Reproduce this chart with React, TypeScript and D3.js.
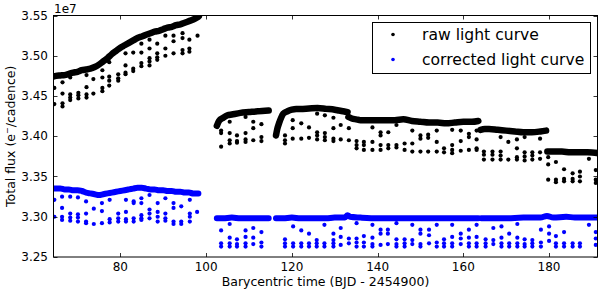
import React from "react";
import * as d3 from "d3";

// ---- data (flux in units of 1e7 e-/cadence, time in BJD - 2454900) ----
const xTicks = [80, 100, 120, 140, 160, 180];
const yTicks = [3.25, 3.3, 3.35, 3.4, 3.45, 3.5, 3.55];

// dense (continuous) part of raw light curve, by segment
const rawSeg1: [number, number][] = [[64.3,3.474],[65,3.475],[66,3.4755],[67,3.476],[68,3.4775],[69,3.479],[70,3.48],[71,3.482],[72,3.483],[73,3.484],[74,3.486],[75,3.489],[76,3.493],[77,3.497],[78,3.502],[79,3.506],[80,3.51],[81,3.513],[82,3.516],[83,3.519],[84,3.522],[85,3.524],[86,3.526],[87,3.528],[88,3.53],[89,3.531],[90,3.533],[91,3.535],[92,3.536],[93,3.538],[94,3.539],[95,3.541],[96,3.543],[97,3.545],[98,3.548],[98.3,3.549]];
const rawSeg2: [number, number][] = [[102.5,3.413],[103,3.419],[104,3.423],[105,3.426],[106,3.427],[108,3.429],[110,3.43],[112,3.431],[114.6,3.432]];
const rawSeg3: [number, number][] = [[116.3,3.401],[116.6,3.409],[117,3.416],[117.5,3.423],[118,3.428],[119,3.431],[120,3.433],[121,3.434],[122,3.434],[124,3.4345],[126,3.435],[128,3.434],[130,3.433],[131,3.432],[132,3.431],[133,3.43]];
const rawSeg4: [number, number][] = [[133.2,3.424],[134,3.422],[135,3.421],[136,3.42],[138,3.42],[140,3.42],[142,3.42],[144,3.42],[146,3.421],[148,3.419],[150,3.418],[152,3.417],[154,3.417],[156,3.416],[158,3.417],[160,3.418],[162,3.418],[163.5,3.419]];
const rawSeg5: [number, number][] = [[164,3.408],[165,3.409],[166,3.409],[168,3.408],[170,3.407],[172,3.406],[174,3.405],[176,3.405],[178,3.406],[179.3,3.407]];
const rawSeg6: [number, number][] = [[179.6,3.381],[181,3.381],[183,3.381],[185,3.38],[187,3.38],[189,3.38],[191.5,3.379]];

// dense part of corrected light curve, by segment
const corSeg1: [number, number][] = [[64.3,3.335],[65,3.335],[66,3.335],[67,3.334],[68,3.334],[69,3.333],[70,3.333],[71,3.332],[72,3.33],[73,3.329],[74,3.328],[75,3.327],[76,3.328],[77,3.329],[78,3.33],[79,3.331],[80,3.332],[81,3.333],[82,3.334],[83,3.335],[84,3.336],[85,3.336],[86,3.335],[87,3.334],[88,3.334],[89,3.333],[90,3.333],[91,3.332],[92,3.332],[93,3.331],[94,3.331],[95,3.33],[96,3.33],[97,3.329],[98.2,3.329]];
const corSeg2: [number, number][] = [[102.5,3.298],[104,3.298],[106,3.299],[108,3.298],[110,3.298],[112,3.298],[114.6,3.298]];
const corSeg3: [number, number][] = [[116.3,3.298],[118,3.298],[120,3.299],[122,3.298],[124,3.298],[126,3.298],[128,3.298],[130,3.299],[132.4,3.299],[133,3.302],[133.6,3.3],[136,3.299],[140,3.298],[144,3.298],[148,3.298],[152,3.298],[156,3.298],[160,3.298],[163.5,3.298]];
const corSeg4: [number, number][] = [[164.2,3.298],[166,3.298],[170,3.298],[174,3.299],[178,3.299],[179.5,3.301],[181,3.299],[184,3.3],[186,3.299],[188,3.299],[191.5,3.299]];

// sparse low points (time, values)
const rawDips: [number, number[]][] = [
  [64.6,[3.46,3.44]],[66.5,[3.467,3.453,3.441,3.437]],[68.3,[3.473,3.452,3.448,3.445]],[70.2,[3.454,3.451,3.447]],
  [72.1,[3.476,3.461,3.452,3.448]],[73.7,[3.471,3.453]],[75.8,[3.482,3.473,3.46,3.456]],[77.4,[3.492,3.474,3.469,3.463]],
  [79.5,[3.477,3.472,3.469]],[81.2,[3.503,3.488,3.479,3.477]],[83.0,[3.504,3.484,3.481]],[84.9,[3.515,3.504,3.491,3.487]],
  [86.8,[3.52,3.509,3.497,3.493,3.488]],[88.6,[3.515,3.503,3.498,3.495]],[90.5,[3.525,3.509,3.5]],[92.4,[3.525,3.518,3.503]],
  [94.5,[3.528,3.522,3.507,3.503]],[96.1,[3.52,3.509,3.505]],[98.0,[3.525]],
  [103.5,[3.407,3.404,3.387]],[105.5,[3.418,3.404,3.395,3.391]],[107.2,[3.401,3.394,3.392]],[109.2,[3.424,3.404,3.396,3.393]],
  [111.0,[3.418,3.41,3.395]],[112.9,[3.415,3.399,3.394]],
  [118.4,[3.401,3.395,3.391]],[120.2,[3.42,3.41,3.397]],[122.2,[3.416,3.397]],[124.0,[3.411,3.398]],
  [125.9,[3.428,3.405,3.401,3.396]],[127.7,[3.426,3.404,3.399,3.395]],[129.7,[3.423,3.41,3.397,3.394]],[131.4,[3.414,3.396]],
  [133.3,[3.41,3.395]],[135.1,[3.394,3.389,3.385]],[136.8,[3.393,3.389,3.383]],[138.8,[3.411,3.393,3.383]],
  [140.7,[3.405,3.401,3.389,3.383]],[142.5,[3.405,3.389,3.385]],[144.4,[3.414,3.389,3.386]],[146.3,[3.391,3.383]],
  [148.1,[3.407,3.391,3.381]],[150.0,[3.401,3.397,3.381]],[151.8,[3.402,3.398,3.381]],[153.8,[3.407,3.393,3.381]],
  [155.5,[3.385,3.38]],[157.4,[3.408,3.389,3.383,3.379]],[159.4,[3.407,3.394,3.382]],[161.3,[3.403,3.399,3.383]],
  [163.1,[3.407,3.396,3.385,3.383]],
  [164.8,[3.381,3.377,3.371]],[166.8,[3.381,3.377,3.371]],[168.7,[3.399,3.381,3.376,3.371]],[170.5,[3.393,3.371]],
  [172.5,[3.396,3.385,3.374,3.371]],[174.3,[3.399,3.38,3.375,3.37]],[176.1,[3.38,3.376,3.371]],[177.9,[3.397,3.38,3.372]],
  [179.8,[3.374,3.365,3.346]],[181.6,[3.368,3.346,3.343]],[183.5,[3.359,3.347,3.344]],[185.5,[3.354,3.347,3.344]],
  [187.2,[3.356,3.35,3.344]],[189.3,[3.372]],[190.9,[3.358,3.346,3.342]],
];
const corDips: [number, number[]][] = [
  [64.6,[3.321,3.3]],[66.4,[3.325,3.311,3.3,3.296]],[68.3,[3.325,3.304,3.299,3.295]],[70.1,[3.324,3.303,3.299,3.294]],
  [72.0,[3.319,3.304,3.294,3.292]],[73.8,[3.31,3.291]],[75.7,[3.317,3.307,3.292]],[77.5,[3.321,3.297,3.293]],
  [79.5,[3.304,3.298,3.294]],[81.3,[3.321,3.306,3.297,3.294]],[83.1,[3.319,3.317,3.298,3.294]],[84.9,[3.323,3.317,3.302,3.298,3.296]],
  [86.8,[3.327,3.309,3.304,3.298]],[88.7,[3.317,3.306,3.3,3.294]],[90.5,[3.323,3.304,3.298,3.295]],[92.4,[3.317,3.311,3.294,3.291]],
  [94.2,[3.313,3.294,3.291]],[96.2,[3.321,3.304,3.3,3.294]],[97.9,[3.306]],
  [103.5,[3.283,3.267,3.263]],[105.5,[3.291,3.274,3.267,3.263]],[107.2,[3.272,3.266,3.263]],[109.2,[3.283,3.275,3.267,3.263]],
  [111.0,[3.286,3.274,3.266]],[112.9,[3.281,3.268,3.263]],
  [118.4,[3.272,3.267,3.263]],[120.3,[3.288,3.267,3.263]],[122.2,[3.283,3.267,3.263]],[124.0,[3.279,3.267,3.263]],
  [125.8,[3.271,3.267,3.263]],[127.6,[3.29,3.267,3.263]],[129.7,[3.279,3.271,3.267,3.263]],[131.4,[3.286,3.275,3.265]],
  [133.3,[3.273,3.267]],[135.1,[3.292,3.273,3.268,3.263]],[136.8,[3.276,3.268,3.263]],[138.8,[3.29,3.274,3.266,3.263]],
  [140.7,[3.284,3.279,3.265]],[142.4,[3.284,3.279,3.266]],[144.4,[3.292,3.272,3.266,3.263]],[146.3,[3.272,3.267,3.263]],
  [148.1,[3.29,3.271,3.266]],[150.0,[3.284,3.279,3.266,3.263]],[152.0,[3.284,3.277,3.267]],[153.8,[3.29,3.268,3.263]],
  [155.5,[3.272,3.267,3.263]],[157.4,[3.29,3.275,3.267,3.263]],[159.4,[3.279,3.273,3.266]],[161.3,[3.284,3.274,3.267,3.263]],
  [163.1,[3.29,3.275,3.267,3.263]],
  [165.2,[3.272,3.267,3.263]],[167.0,[3.286,3.271,3.266]],[168.9,[3.288,3.274,3.267,3.263]],[170.7,[3.279,3.267,3.263]],
  [172.6,[3.291,3.274,3.267,3.263]],[174.3,[3.272,3.266,3.263]],[176.1,[3.271,3.267,3.263]],[178.1,[3.284,3.268,3.263]],
  [180.0,[3.288,3.279,3.27]],[181.6,[3.276,3.267,3.263]],[183.5,[3.281,3.267,3.263]],[185.5,[3.267,3.263]],
  [187.2,[3.267,3.263]],[189.3,[3.29]],[190.9,[3.281,3.273,3.265]],
];

const rawSegments = [rawSeg1, rawSeg2, rawSeg3, rawSeg4, rawSeg5, rawSeg6];
const corSegments = [corSeg1, corSeg2, corSeg3, corSeg4];
const legendLabels = ["raw light curve", "corrected light curve"];
const RAW = "#000000";
const COR = "#0000ff";

const W = 600, H = 290;
const L = 53.5, R = 597.5, T = 15.5, B = 257;
const FONT = "'DejaVu Sans', 'Bitstream Vera Sans', sans-serif";

export default function App() {
  const x = d3.scaleLinear().domain([64.4, 191.3]).range([L, R]);
  const y = d3.scaleLinear().domain([3.25, 3.55]).range([B, T]);
  const line = d3.line<[number, number]>().x((d) => x(d[0])).y((d) => y(d[1])).curve(d3.curveMonotoneX);
  const dots = (data: [number, number[]][]) =>
    data.flatMap(([t, vs]) => vs.map((v) => [t, v] as [number, number]));

  return (
    <svg width={W} height={H} style={{ position: "absolute", left: 0, top: 0, background: "#fff" }} fontFamily={FONT}>
      <defs>
        <clipPath id="plotclip">
          <rect x={L} y={T} width={R - L} height={B - T} />
        </clipPath>
      </defs>
      <rect x={0} y={0} width={W} height={H} fill="#fff" />
      <g clipPath="url(#plotclip)">
        {rawSegments.map((s, i) => (
          <path key={"r" + i} d={line(s) || ""} fill="none" stroke={RAW} strokeWidth={6.5} strokeLinecap="round" strokeLinejoin="round" />
        ))}
        {dots(rawDips).map((d, i) => (
          <circle key={"rd" + i} cx={x(d[0])} cy={y(d[1])} r={2.1} fill={RAW} />
        ))}
        {corSegments.map((s, i) => (
          <path key={"c" + i} d={line(s) || ""} fill="none" stroke={COR} strokeWidth={6} strokeLinecap="round" strokeLinejoin="round" />
        ))}
        {dots(corDips).map((d, i) => (
          <circle key={"cd" + i} cx={x(d[0])} cy={y(d[1])} r={2.1} fill={COR} />
        ))}
      </g>
      {/* frame */}
      <rect x={L} y={T} width={R - L} height={B - T} fill="none" stroke="#000" strokeWidth={1} />
      {/* ticks inward on all sides */}
      {xTicks.map((t) => (
        <g key={"xt" + t}>
          <line x1={Math.round(x(t)) + 0.5} x2={Math.round(x(t)) + 0.5} y1={B} y2={B - 4} stroke="#000" strokeWidth={0.8} />
          <line x1={Math.round(x(t)) + 0.5} x2={Math.round(x(t)) + 0.5} y1={T} y2={T + 4} stroke="#000" strokeWidth={0.8} />
          <text x={x(t)} y={271} textAnchor="middle" fontSize={12}>{t}</text>
        </g>
      ))}
      {yTicks.map((t) => (
        <g key={"yt" + t}>
          <line x1={L} x2={L + 4} y1={Math.round(y(t)) + 0.5} y2={Math.round(y(t)) + 0.5} stroke="#000" strokeWidth={0.8} />
          <line x1={R} x2={R - 4} y1={Math.round(y(t)) + 0.5} y2={Math.round(y(t)) + 0.5} stroke="#000" strokeWidth={0.8} />
          <text x={48} y={y(t) + 4.2} textAnchor="end" fontSize={12}>{t.toFixed(2)}</text>
        </g>
      ))}
      <text x={54} y={13} fontSize={12}>1e7</text>
      <text x={(L + R) / 2} y={286} textAnchor="middle" fontSize={12.5}>Barycentric time (BJD - 2454900)</text>
      <text transform={`translate(15,${(T + B) / 2}) rotate(-90)`} textAnchor="middle" fontSize={12.5}>
        Total flux (e<tspan dy={-5} fontSize={8}>−</tspan><tspan dy={5}>/cadence)</tspan>
      </text>
      {/* legend */}
      <rect x={372.5} y={22.5} width={218} height={51} fill="#fff" stroke="#000" strokeWidth={1} />
      {legendLabels.map((lab, i) => (
        <g key={lab}>
          <circle cx={393} cy={34.5 + i * 25} r={1.8} fill={i === 0 ? RAW : COR} />
          <text x={422} y={40 + i * 25} fontSize={15.6}>{lab}</text>
        </g>
      ))}
    </svg>
  );
}
